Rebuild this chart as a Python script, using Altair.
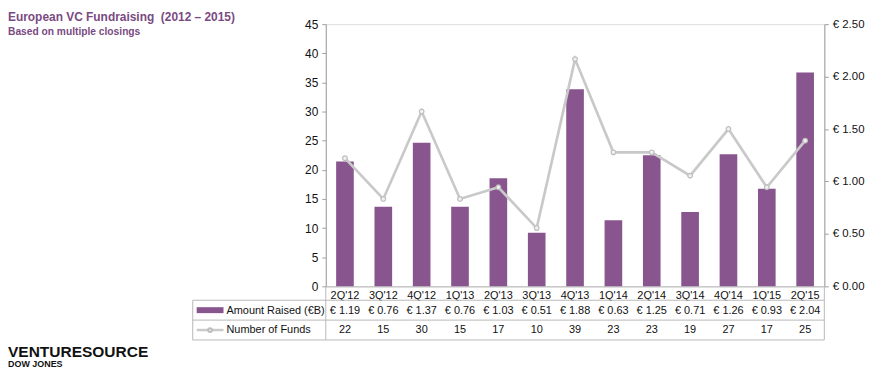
import altair as alt
import pandas as pd

quarters = ["2Q'12", "3Q'12", "4Q'12", "1Q'13", "2Q'13", "3Q'13", "4Q'13",
            "1Q'14", "2Q'14", "3Q'14", "4Q'14", "1Q'15", "2Q'15"]
amount_raised = [1.19, 0.76, 1.37, 0.76, 1.03, 0.51, 1.88, 0.63, 1.25, 0.71, 1.26, 0.93, 2.04]
number_of_funds = [22, 15, 30, 15, 17, 10, 39, 23, 23, 19, 27, 17, 25]

title_text = "European VC Fundraising \u00a0(2012 \u2013 2015)"
subtitle_text = "Based on multiple closings"
row_labels = ["Amount Raised (\u20acB)", "Number of Funds"]

df = pd.DataFrame({"quarter": quarters, "amount": amount_raised, "funds": number_of_funds})
one = pd.DataFrame({"k": [0]})

W, H = 502, 264
FONT = "Liberation Sans"
PURPLE = "#88558f"
LINEGRAY = "#c9c9c9"
TABLEGRAY = "#b8b8b8"
TITLE_COLOR = "#7a4a82"
TXT = 11

xenc = alt.X("quarter:N", sort=quarters,
             scale=alt.Scale(paddingInner=0.54, paddingOuter=0.27),
             axis=alt.Axis(title=None, orient="bottom", ticks=False, labelAngle=0,
                           labelFontSize=TXT, labelPadding=3, labelColor="#111",
                           domainColor=TABLEGRAY, labelFont=FONT))

base = alt.Chart(df)

bars = base.mark_bar(color=PURPLE).encode(
    x=xenc,
    y=alt.Y("amount:Q", scale=alt.Scale(domain=[0, 2.5]),
            axis=alt.Axis(title=None, orient="right", values=[0, 0.5, 1, 1.5, 2, 2.5],
                          labelExpr="'\u20ac ' + format(datum.value, '.2f')",
                          grid=False, tickSize=4, labelPadding=4, labelFontSize=11.5,
                          labelColor="#111", domainColor="#a0a0a0", tickColor="#a0a0a0",
                          labelFont=FONT)),
)

line = base.mark_line(
    color=LINEGRAY, strokeWidth=2.7,
    point=alt.OverlayMarkDef(filled=True, fill="#f2f2f2", stroke="#bdbdbd",
                             strokeWidth=1.2, size=22, opacity=1),
).encode(
    x=alt.X("quarter:N", sort=quarters),
    y=alt.Y("funds:Q", scale=alt.Scale(domain=[0, 45]),
            axis=alt.Axis(title=None, orient="left", values=list(range(0, 50, 5)),
                          grid=False, tickSize=4, labelPadding=4, labelFontSize=12,
                          labelColor="#111", domainColor="#a0a0a0", tickColor="#a0a0a0",
                          labelFont=FONT)),
)

amt_text = base.transform_calculate(
    lbl="'\u20ac ' + format(datum.amount, '.2f')"
).mark_text(fontSize=TXT, font=FONT, color="#111", baseline="middle").encode(
    x=alt.X("quarter:N", sort=quarters), y=alt.value(289), text="lbl:N")

fund_text = base.mark_text(fontSize=TXT, font=FONT, color="#111", baseline="middle").encode(
    x=alt.X("quarter:N", sort=quarters), y=alt.value(308), text="funds:Q")

def hrule(y, x1, x2, color=TABLEGRAY, w=1):
    return alt.Chart(one).mark_rule(color=color, strokeWidth=w).encode(
        x=alt.value(x1), x2=alt.value(x2), y=alt.value(y))

def vrule(x, y1, y2):
    return alt.Chart(one).mark_rule(color=TABLEGRAY, strokeWidth=1).encode(
        x=alt.value(x), y=alt.value(y1), y2=alt.value(y2))

table_lines = [
    hrule(278, -134, W), hrule(298, -134, W), hrule(318, -134, W),
    vrule(-134, 278, 318), vrule(0, 264, 318), vrule(W, 264, 318),
]

leg_rect = alt.Chart(one).mark_rect(color=PURPLE).encode(
    x=alt.value(-130), x2=alt.value(-103), y=alt.value(285), y2=alt.value(291))
leg_line = hrule(308, -130, -103, color=LINEGRAY, w=2.5)
leg_pt = alt.Chart(one).mark_point(filled=True, fill="#f2f2f2", stroke="#bdbdbd",
                                   size=14, opacity=1).encode(
    x=alt.value(-116.5), y=alt.value(308))

def label(txt, x, y, size, weight="normal", color="#111", baseline="middle"):
    return alt.Chart(pd.DataFrame({"t": [txt]})).mark_text(
        align="left", baseline=baseline, fontSize=size, fontWeight=weight,
        font=FONT, color=color).encode(x=alt.value(x), y=alt.value(y), text="t:N")

row1 = label(row_labels[0], -100, 289, TXT)
row2 = label(row_labels[1], -100, 308, TXT)
t1 = label(title_text, -320, -3, 12, "bold", TITLE_COLOR, "alphabetic")
t2 = label(subtitle_text, -320, 11, 10.3, "bold", TITLE_COLOR, "alphabetic")
logo1 = label("VENTURESOURCE", -320, 335, 15.6, "bold", "#111", "alphabetic")
logo2 = label("DOW JONES", -320, 345, 9, "bold", "#111", "alphabetic")

chart = alt.layer(
    bars, line, amt_text, fund_text, *table_lines,
    leg_rect, leg_line, leg_pt, row1, row2, t1, t2, logo1, logo2
).resolve_scale(y="independent").properties(
    width=W, height=H,
    padding={"left": 320, "top": 15, "right": 46, "bottom": 86},
    autosize=alt.AutoSizeParams(type="none"),
).configure_view(stroke=None).configure(font=FONT)

chart.save("out.html", embed_options={"renderer": "svg", "actions": False})
